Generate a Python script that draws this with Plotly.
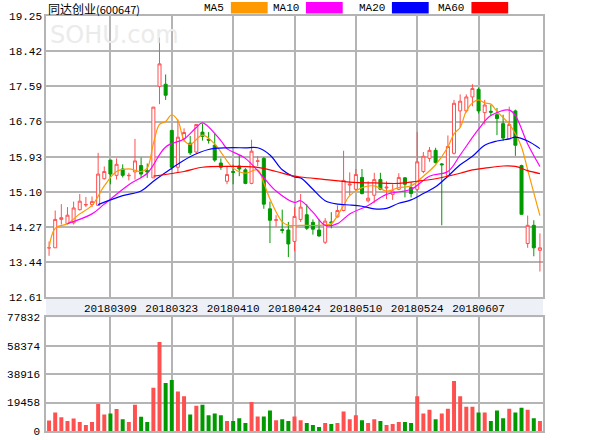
import pandas as pd
import plotly.graph_objects as go
from plotly.subplots import make_subplots

holidays = ["2018-04-05", "2018-04-06", "2018-04-30", "2018-05-01", "2018-06-18"]
days = pd.bdate_range("2018-02-23", "2018-06-22")
dates = [d.strftime("%Y%m%d") for d in days if d.strftime("%Y-%m-%d") not in holidays]

opens = [13.78, 13.78, 14.45, 14.35, 14.37, 14.68, 14.79, 14.80, 14.78, 15.41,
         15.85, 15.49, 15.64, 15.48, 15.57, 15.72, 15.60, 15.43, 17.59, 17.64,
         16.55, 15.68, 16.36, 16.25, 16.04, 16.51, 16.34, 16.20, 15.78, 15.35,
         15.58, 15.71, 15.62, 15.30, 15.82, 15.89, 14.70, 14.43, 14.21, 14.20,
         13.93, 14.45, 14.56, 14.38, 14.20, 13.91, 14.39, 14.51, 14.66, 15.26,
         15.16, 15.44, 14.89, 15.02, 15.39, 15.19, 15.04, 15.16, 15.43, 15.20,
         15.16, 15.58, 15.89, 16.08, 15.76, 15.48, 16.01, 17.01, 17.01, 17.34,
         17.52, 16.97, 17.00, 16.92, 16.71, 16.35, 17.01, 15.72, 13.88, 14.31,
         13.72]
highs = [13.93, 14.66, 14.81, 14.74, 14.87, 15.05, 14.98, 14.99, 16.02, 15.70,
         15.85, 15.89, 15.75, 15.55, 16.35, 15.91, 15.77, 17.10, 18.74, 17.87,
         16.55, 16.81, 16.60, 16.42, 16.69, 16.71, 16.51, 16.47, 15.89, 15.70,
         15.74, 15.97, 15.66, 16.33, 15.94, 15.92, 14.87, 14.55, 14.68, 14.39,
         14.74, 15.05, 14.81, 14.45, 14.45, 14.48, 14.62, 14.78, 16.07, 15.56,
         15.64, 15.64, 15.35, 15.55, 15.55, 15.35, 15.28, 15.54, 15.45, 15.33,
         16.51, 16.04, 16.16, 16.14, 15.78, 16.43, 17.27, 17.40, 17.40, 17.64,
         17.56, 17.27, 17.15, 17.08, 16.92, 17.11, 17.04, 15.74, 14.54, 14.43,
         14.12]
lows = [13.59, 13.78, 14.33, 14.33, 14.33, 14.66, 14.74, 14.74, 14.78, 15.39,
        15.28, 15.39, 15.44, 15.37, 15.39, 15.43, 15.43, 15.43, 17.17, 17.27,
        15.62, 15.55, 16.28, 15.97, 16.00, 16.31, 16.24, 15.81, 15.62, 15.28,
        15.28, 15.47, 15.28, 15.28, 15.71, 14.70, 13.89, 14.28, 14.12, 13.56,
        13.70, 14.39, 14.20, 14.09, 14.04, 13.87, 14.24, 14.49, 14.64, 15.01,
        15.14, 15.04, 14.85, 14.84, 15.14, 14.93, 14.91, 15.14, 14.97, 14.97,
        15.10, 15.54, 15.81, 15.77, 14.31, 15.47, 15.98, 16.62, 16.97, 17.12,
        16.95, 16.69, 16.90, 16.44, 16.30, 16.35, 15.95, 14.57, 13.78, 13.58,
        13.22]
closes = [13.78, 14.45, 14.49, 14.55, 14.72, 14.88, 14.80, 14.87, 15.52, 15.58,
          15.52, 15.75, 15.49, 15.49, 15.83, 15.52, 15.57, 17.10, 18.12, 17.38,
          15.68, 16.39, 16.50, 16.02, 16.69, 16.41, 16.32, 15.85, 15.68, 15.51,
          15.56, 15.64, 15.30, 16.06, 15.83, 14.81, 14.43, 14.44, 14.19, 13.87,
          14.52, 14.74, 14.24, 14.22, 14.06, 14.41, 14.37, 14.66, 15.37, 15.28,
          15.51, 15.06, 14.95, 15.39, 15.16, 15.21, 15.12, 15.44, 15.28, 15.06,
          15.81, 15.94, 16.08, 15.79, 15.74, 16.17, 17.19, 17.24, 17.34, 17.54,
          17.01, 17.15, 16.98, 16.83, 16.37, 16.69, 16.20, 14.57, 14.31, 13.78,
          13.78]

volumes = [7200, 12600, 9400, 6800, 8500, 6100, 4100, 6100, 18500, 11300,
           12000, 15000, 8100, 6100, 17900, 9800, 6100, 29600, 61000, 32900,
           34900, 27000, 23800, 11300, 17200, 17900, 10700, 12000, 10700, 6800,
           6800, 8700, 5500, 19800, 10000, 10000, 14000, 7400, 8100, 6800,
           10000, 7400, 5500, 4100, 2800, 5500, 4800, 5500, 13300, 8100,
           10700, 7400, 5500, 8100, 6800, 4100, 4800, 6100, 6100, 5500,
           23800, 12000, 14600, 8100, 12000, 15300, 34200, 23800, 16600, 16600,
           12600, 12600, 6800, 14000, 8700, 15300, 12600, 15900, 14600, 8700,
           6800]
vol_dir = list("RRRRRRRRRRGRGRRGGRRGGRRGRGGGGRGGGRRGGRGGRRGGGRGRRRRGRRGRRRGGRRRGRRRRRRGRGGGRGGRGR")

ma5_idx = [0, 1, 3, 5, 7, 9, 11, 13, 15, 16, 17, 18, 19, 20, 21, 22, 23, 25, 27, 28, 30, 32, 34, 35,
           36, 38, 39, 41, 44, 46, 47, 48, 49, 51, 53, 55, 57, 59, 61, 63, 65, 66, 67, 68, 69,
           70, 71, 72, 73, 74, 75, 76, 77, 78, 80]
ma5_val = [13.78, 14.24, 14.35, 14.58, 14.78, 15.24, 15.58, 15.64, 15.58, 15.66, 16.24, 16.69,
           16.76, 16.92, 16.78, 16.32, 16.22, 16.44, 16.23, 16.04, 15.66, 15.54, 15.62, 15.31,
           14.93, 14.39, 14.31, 14.31, 14.31, 14.35, 14.54, 14.78, 15.01, 15.20, 15.24, 15.12,
           15.20, 15.24, 15.47, 15.74, 16.16, 16.47, 16.62, 17.01, 17.20, 17.27, 17.20, 17.17,
           17.00, 16.85, 16.70, 16.47, 16.16, 15.62, 14.54]
ma10_idx = [3, 7, 9, 13, 16, 19, 22, 24, 25, 28, 29, 32, 35, 37, 40, 41, 43, 45, 47, 49, 52,
            55, 59, 62, 65, 67, 70, 72, 75, 76, 78, 80]
ma10_val = [14.35, 14.58, 14.81, 15.27, 15.54, 16.16, 16.35, 16.62, 16.73, 16.31, 16.12, 15.89,
            15.43, 15.12, 14.85, 14.89, 14.62, 14.31, 14.35, 14.58, 14.78, 15.04, 15.16, 15.47,
            15.58, 15.97, 16.58, 16.90, 17.03, 16.90, 16.23, 15.70]
ma20_idx = [8, 12, 15, 17, 20, 23, 26, 29, 32, 34, 36, 38, 40, 41, 43, 45, 47, 49, 51, 53, 55,
            57, 59, 61, 63, 65, 67, 69, 71, 73, 75, 76, 78, 80]
ma20_val = [14.80, 15.01, 15.12, 15.35, 15.66, 15.93, 16.10, 16.14, 16.14, 16.14, 15.97, 15.62,
            15.45, 15.43, 15.16, 14.89, 14.81, 14.79, 14.76, 14.70, 14.71, 14.83, 14.91, 15.06,
            15.22, 15.47, 15.74, 15.94, 16.20, 16.30, 16.35, 16.39, 16.30, 16.12]
ma60_idx = [17, 19, 22, 25, 29, 34, 37, 40, 41, 45, 49, 53, 57, 60, 63, 65, 67, 69, 71, 74, 76, 78, 80]
ma60_val = [15.47, 15.51, 15.58, 15.68, 15.70, 15.68, 15.58, 15.47, 15.45, 15.39, 15.33, 15.31,
            15.30, 15.35, 15.41, 15.47, 15.54, 15.62, 15.66, 15.71, 15.70, 15.60, 15.53]

price_ticks = [12.61, 13.44, 14.27, 15.10, 15.93, 16.76, 17.59, 18.42, 19.25]
vol_ticks = [0, 19458, 38916, 58374, 77832]
date_ticks = ["20180309", "20180323", "20180410", "20180424", "20180510", "20180524", "20180607"]

RED = "#ff5050"
GREEN = "#009900"
font = dict(family="Liberation Mono, DejaVu Sans Mono", size=11, color="black")

fig = make_subplots(rows=2, cols=1, shared_xaxes=False, vertical_spacing=0.0,
                    row_heights=[0.72, 0.28])

fig.add_trace(go.Candlestick(x=dates, open=opens, high=highs, low=lows, close=closes,
                             increasing=dict(line=dict(color=RED, width=1), fillcolor="white"),
                             decreasing=dict(line=dict(color=GREEN, width=1), fillcolor=GREEN),
                             whiskerwidth=0, showlegend=False, hoverinfo="skip"), row=1, col=1)

for idx, val, col in [(ma5_idx, ma5_val, "#ff9900"), (ma10_idx, ma10_val, "#ff00ff"),
                      (ma20_idx, ma20_val, "#0000ff"), (ma60_idx, ma60_val, "#ff0000")]:
    fig.add_trace(go.Scatter(x=[dates[i] for i in idx], y=val, mode="lines",
                             line=dict(color=col, width=1.2, shape="spline"),
                             showlegend=False, hoverinfo="skip"), row=1, col=1)

fig.add_trace(go.Bar(x=dates, y=volumes,
                     marker=dict(color=[RED if d == "R" else GREEN for d in vol_dir], line_width=0),
                     width=0.65, showlegend=False, hoverinfo="skip"), row=2, col=1)

axis_common = dict(showgrid=True, gridcolor="#b4b4b4", gridwidth=1.5, showline=True,
                   linecolor="#b4b4b4", linewidth=1.5, mirror=True, zeroline=False,
                   tickfont=font, ticks="", automargin=False)
fig.update_xaxes(axis_common, type="category", range=[-0.5, len(dates) - 0.5],
                 tickmode="array", tickvals=date_ticks, rangeslider_visible=False)
fig.update_xaxes(showticklabels=True, row=1, col=1)
fig.update_xaxes(showticklabels=False, row=2, col=1)
fig.update_yaxes(axis_common, row=1, col=1, range=[12.61, 19.25], tickvals=price_ticks,
                 ticktext=["%.2f" % t for t in price_ticks])
fig.update_yaxes(axis_common, row=2, col=1, range=[0, 77832], tickvals=vol_ticks,
                 ticktext=[str(t) for t in vol_ticks], ticklabelstandoff=2)

fig.update_layout(
    width=600, height=440,
    margin=dict(l=46, r=57, t=16, b=9),
    paper_bgcolor="white", plot_bgcolor="white",
    font=font,
)
fig.layout.yaxis.domain = [0.322, 1.0]
fig.layout.yaxis2.domain = [0.0, 0.274]

# date label strip
fig.add_shape(type="rect", xref="paper", yref="paper", x0=0, x1=1, y0=0.274, y1=0.322,
              fillcolor="#eef0f8", line_width=0, layer="below")

fig.add_annotation(text="SOHU.com", xref="paper", yref="paper", x=0.005, y=0.955,
                   xanchor="left", yanchor="middle", showarrow=False,
                   font=dict(family="DejaVu Sans", size=24, color="#ebebeb"))
fig.add_annotation(text="同达创业<span style='font-size:11px'>(600647)</span>", xref="paper", yref="paper",
                   x=0.0, y=1.0, xanchor="left", yanchor="middle", yshift=8, showarrow=False,
                   font=dict(family="Noto Sans CJK SC", size=12, color="black"))

legend_items = [("MA5", "#ff9900", 0.362), ("MA10", "#ff00ff", 0.513),
                ("MA20", "#0000ff", 0.686), ("MA60", "#ff0000", 0.846)]
for name, col, px in legend_items:
    fig.add_annotation(text=name, xref="paper", yref="paper", x=px, y=1.0, xanchor="right",
                       yanchor="middle", yshift=8, showarrow=False, font=font)
    fig.add_shape(type="rect", xref="paper", yref="paper", x0=px + 0.01, x1=px + 0.084,
                  y0=1.006, y1=1.034, fillcolor=col, line_width=0)

# drop the page's default body margin so the figure sits at the window's corner
fig.write_html("out.html", config={"displayModeBar": False},
               post_script="document.body.style.margin='0';")
